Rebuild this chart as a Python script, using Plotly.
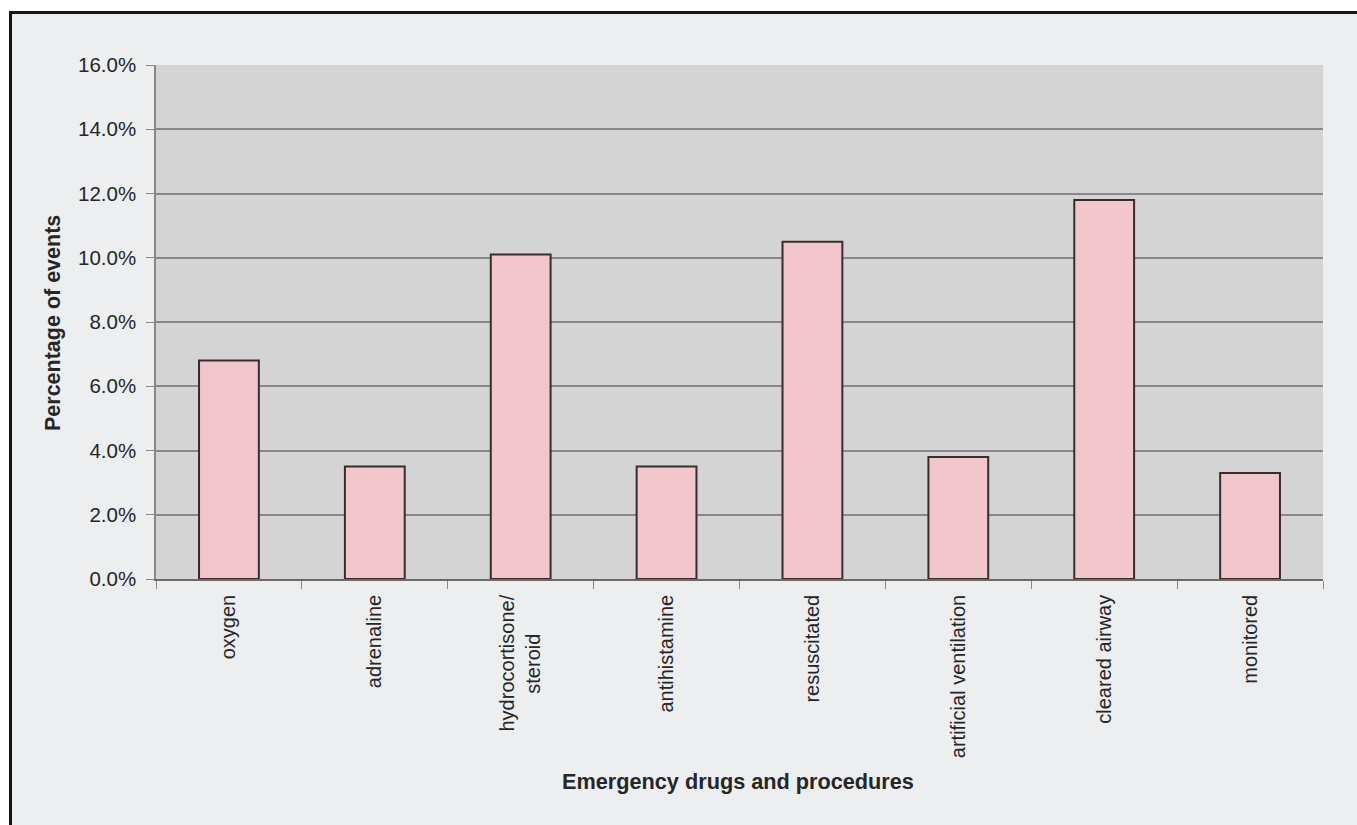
import plotly.graph_objects as go

# Emergency drugs / procedures and the share of events in which each was used
categories = [
    "oxygen",
    "adrenaline",
    "hydrocortisone/<br>steroid" + "\u00a0" * 7,
    "antihistamine",
    "resuscitated",
    "artificial ventilation",
    "cleared airway",
    "monitored",
]
percent_of_events = [6.8, 3.5, 10.1, 3.5, 10.5, 3.8, 11.8, 3.3]

y_ticks = [0, 2, 4, 6, 8, 10, 12, 14, 16]
y_tick_labels = [f"{v:.1f}%" for v in y_ticks]

W, H = 1357, 825
L, R, T, B = 156, 1323, 65, 579  # plot area edges in pixels


def px_x(p):
    return (p - L) / (R - L)


def px_y(p):
    return (B - p) / (B - T)


FONT = "Liberation Sans, Arial, sans-serif"
TEXT = "#262626"
PAGE = "#eceef0"

fig = go.Figure(
    go.Bar(
        x=categories,
        y=percent_of_events,
        marker=dict(color="#f2c6cd", line=dict(color="#3a2c2e", width=2)),
        width=0.41,
    )
)

fig.update_layout(
    width=W,
    height=H,
    margin=dict(l=L, r=W - R, t=T, b=H - B, autoexpand=False),
    paper_bgcolor=PAGE,
    plot_bgcolor="#d4d4d4",
    showlegend=False,
    font=dict(family=FONT, color=TEXT, size=20),
)

fig.update_yaxes(
    range=[0, 16],
    tickvals=y_ticks,
    ticktext=y_tick_labels,
    showgrid=True,
    gridcolor="#8c8686",
    gridwidth=1.5,
    zeroline=False,
    showline=True,
    linecolor="#8c8686",
    linewidth=1.5,
    ticks="outside",
    ticklen=8,
    tickcolor="#8c8686",
    tickfont=dict(size=20.5, color=TEXT),
    ticklabelstandoff=6,
)

fig.update_xaxes(
    type="category",
    tickson="boundaries",
    showgrid=False,
    showline=True,
    linecolor="#6e6868",
    linewidth=1.5,
    ticks="outside",
    ticklen=8,
    tickcolor="#8c8686",
    tickangle=-90,
    tickfont=dict(size=20, color=TEXT),
    ticklabelstandoff=6,
)

# Axis titles
fig.add_annotation(
    text="<b>Percentage of events</b>",
    xref="paper", yref="paper",
    x=px_x(53), y=px_y(323),
    xanchor="center", yanchor="middle",
    textangle=-90, showarrow=False,
    font=dict(size=21.5, color=TEXT, family=FONT),
)
fig.add_annotation(
    text="<b>Emergency drugs and procedures</b>",
    xref="paper", yref="paper",
    x=px_x(738), y=px_y(781),
    xanchor="center", yanchor="middle",
    showarrow=False,
    font=dict(size=21.7, color=TEXT, family=FONT),
)

# Frame round the chart: white page edge with a black rule on top and left
shapes = [
    dict(type="rect", xref="paper", yref="paper",
         x0=px_x(0), x1=px_x(W), y0=px_y(12), y1=px_y(0),
         fillcolor="white", line=dict(width=0), layer="above"),
    dict(type="rect", xref="paper", yref="paper",
         x0=px_x(0), x1=px_x(9), y0=px_y(H), y1=px_y(0),
         fillcolor="white", line=dict(width=0), layer="above"),
    dict(type="line", xref="paper", yref="paper",
         x0=px_x(9), x1=px_x(W), y0=px_y(12.5), y1=px_y(12.5),
         line=dict(color="#151515", width=3), layer="above"),
    dict(type="line", xref="paper", yref="paper",
         x0=px_x(10.5), x1=px_x(10.5), y0=px_y(11), y1=px_y(H),
         line=dict(color="#151515", width=3), layer="above"),
]
fig.update_layout(shapes=shapes)

fig.write_html("out.html")
